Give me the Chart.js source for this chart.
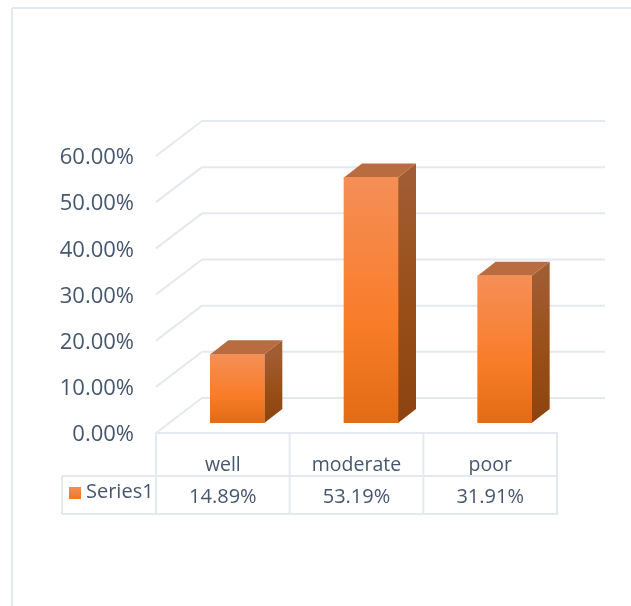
<!DOCTYPE html>
<html>
<head>
<meta charset="utf-8">
<title>Chart</title>
<script src="https://cdn.jsdelivr.net/npm/chart.js@4"></script>
<style>
  html, body { margin: 0; padding: 0; background: #fff; overflow: hidden; }
  #wrap { width: 631px; height: 606px; }
  #chart { filter: blur(0.6px); }
</style>
</head>
<body>
<div id="wrap"><canvas id="chart" width="631" height="606"></canvas></div>
<script>
const categories = ['well', 'moderate', 'poor'];
const seriesName = 'Series1';
const seriesValues = [0.1489, 0.5319, 0.3191];
const yTicks = [0, 0.1, 0.2, 0.3, 0.4, 0.5, 0.6];

const lineColor = '#e4e8ef';
const textColor = '#46566e';

// the bars stand part way into the floor, the walls at its back
const barShift = { x: 14.5, y: -10 };
const barDepth = { x: 18, y: -14 };
const wallDepth = { x: 46, y: -35 };

function pct(v) {
    return (v * 100).toFixed(2) + '%';
}

function line(ctx, x1, y1, x2, y2) {
    ctx.beginPath();
    ctx.moveTo(x1, y1);
    ctx.lineTo(x2, y2);
    ctx.stroke();
}

function face(ctx, pts, fill) {
    ctx.beginPath();
    pts.forEach((p, i) => i ? ctx.lineTo(p[0], p[1]) : ctx.moveTo(p[0], p[1]));
    ctx.closePath();
    ctx.fillStyle = fill;
    ctx.fill();
}

const backdrop = {
    id: 'backdrop',
    beforeDatasetsDraw(chart) {
        const { ctx, scales } = chart;
        const left = scales.x.left;
        const right = scales.x.right;
        const floor = scales.y.getPixelForValue(0);
        ctx.save();
        ctx.strokeStyle = lineColor;
        ctx.lineWidth = 2;

        // page frame
        line(ctx, 12, 8, 631, 8);
        line(ctx, 12, 8, 12, 606);

        // walls and value labels, the labels sit a little low in the original
        ctx.font = '22px "Open Sans"';
        ctx.fillStyle = textColor;
        ctx.textAlign = 'right';
        ctx.textBaseline = 'middle';
        yTicks.forEach(v => {
            const y = scales.y.getPixelForValue(v);
            line(ctx, left, y, left + wallDepth.x, y + wallDepth.y);
            line(ctx, left + wallDepth.x, y + wallDepth.y, right + 48, y + wallDepth.y);
            ctx.fillText(pct(v), 134, y + 2);
        });

        // data table grid
        const rowTop = floor + 43;
        const rowBottom = floor + 81;
        line(ctx, left - 1, floor, right + 1, floor);
        line(ctx, 62, rowTop, right + 1, rowTop);
        line(ctx, 62, rowBottom, right + 1, rowBottom);
        line(ctx, 62, rowTop, 62, rowBottom);
        categories.forEach((c, i) => {
            const x = left + (right - left) * i / categories.length;
            line(ctx, x, floor, x, rowBottom);
        });
        line(ctx, right, floor, right, rowBottom);

        // data table text and legend key
        ctx.font = '20px "Open Sans"';
        ctx.textAlign = 'center';
        seriesValues.forEach((v, i) => {
            ctx.fillText(pct(v), scales.x.getPixelForValue(i), rowTop + 21);
        });
        ctx.textAlign = 'left';
        ctx.fillText(seriesName, 86, rowTop + 16);
        const key = ctx.createLinearGradient(0, rowTop + 11, 0, rowTop + 23);
        key.addColorStop(0, '#f58e55');
        key.addColorStop(1, '#f1761f');
        ctx.fillStyle = key;
        ctx.fillRect(69, rowTop + 11, 12, 12);
        ctx.restore();
    },
    beforeDatasetDraw(chart) {
        const { ctx } = chart;
        ctx.save();
        ctx.translate(barShift.x, barShift.y);
        chart.getDatasetMeta(0).data.forEach(bar => {
            const { x, y, base, width } = bar.getProps(['x', 'y', 'base', 'width'], true);
            const l = x - width / 2;
            const r = x + width / 2;
            const dx = barDepth.x;
            const dy = barDepth.y;
            const side = ctx.createLinearGradient(0, y, 0, base);
            side.addColorStop(0, '#a05c33');
            side.addColorStop(0.5, '#9a4f18');
            side.addColorStop(1, '#8c430f');
            face(ctx, [[r, y], [r + dx, y + dy], [r + dx, base + dy], [r, base]], side);
            face(ctx, [[l, y], [l + dx, y + dy], [r + dx, y + dy], [r, y]], '#b86c3f');
        });
    },
    afterDatasetDraw(chart) {
        chart.ctx.restore();
    }
};

new Chart(document.getElementById('chart'), {
    type: 'bar',
    data: {
        labels: categories,
        datasets: [{
            label: seriesName,
            data: seriesValues,
            barThickness: 54,
            backgroundColor(c) {
                const yScale = c.chart.scales.y;
                const top = yScale ? yScale.getPixelForValue(c.raw) : NaN;
                const base = yScale ? yScale.getPixelForValue(0) : NaN;
                if (!Number.isFinite(top) || !Number.isFinite(base)) return '#f97b28';
                const g = c.chart.ctx.createLinearGradient(0, top, 0, base);
                g.addColorStop(0, '#f48f57');
                g.addColorStop(0.6, '#f97c28');
                g.addColorStop(1, '#e26b14');
                return g;
            }
        }]
    },
    options: {
        responsive: false,
        animation: false,
        layout: { padding: { left: 0, right: 74, top: 156, bottom: 73 } },
        plugins: {
            legend: { display: false },
            tooltip: { enabled: false }
        },
        scales: {
            x: {
                grid: { display: false, drawTicks: false },
                border: { display: false },
                ticks: { color: textColor, font: { family: 'Open Sans', size: 19.5 }, padding: 21 },
                afterFit(scale) { scale.height = 100; }
            },
            y: {
                min: 0,
                max: 0.6,
                afterBuildTicks(scale) { scale.ticks = yTicks.map(v => ({ value: v })); },
                grid: { display: false, drawTicks: false },
                border: { display: false },
                ticks: { display: false },
                afterFit(scale) { scale.width = 156; }
            }
        }
    },
    plugins: [backdrop]
});
</script>
</body>
</html>
